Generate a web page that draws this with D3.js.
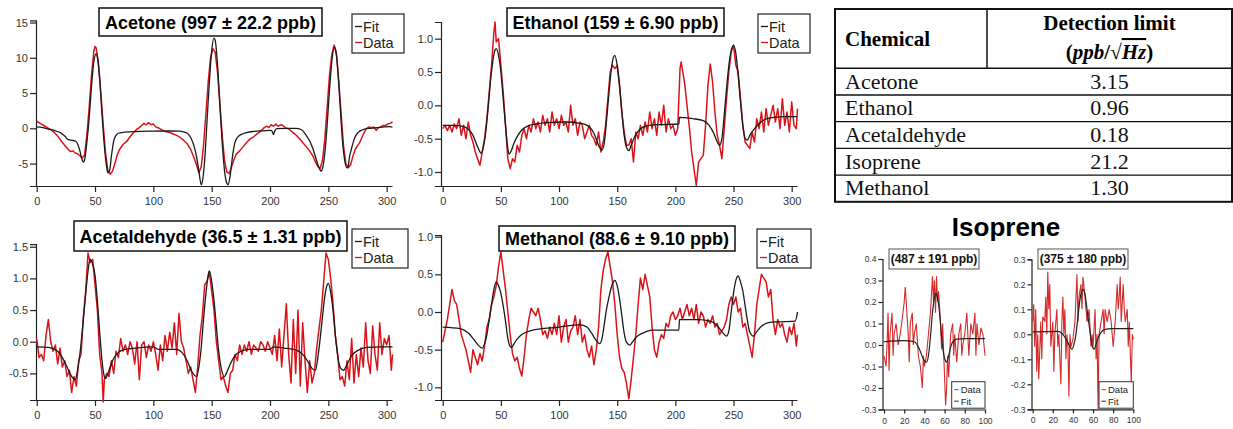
<!DOCTYPE html>
<html>
<head>
<meta charset="utf-8">
<script src="https://cdn.jsdelivr.net/npm/d3@7"></script>
<style>
  body { margin: 0; background: #fff; }
  svg { display: block; font-family: "Liberation Sans", Arial, sans-serif; }
  .axis path, .axis line { stroke: #222; stroke-width: 1.2; }
  .axis text { fill: #333; }
</style>
</head>
<body>
<svg id="chart" width="1233" height="429"></svg>
<script>
// ---- values ----
const bigXTicks = [0, 50, 100, 150, 200, 250, 300];
const isoXTicks = [0, 20, 40, 60, 80, 100];
const acetoneYTicks = [-5, 0, 5, 10, 15];
const ethanolYTicks = [-1.0, -0.5, 0.0, 0.5, 1.0];
const acetaldehydeYTicks = [-0.5, 0.0, 0.5, 1.0, 1.5];
const methanolYTicks = [-1.0, -0.5, 0.0, 0.5, 1.0];
const isoLeftYTicks = [-0.3, -0.2, -0.1, 0.0, 0.1, 0.2, 0.3, 0.4];
const isoRightYTicks = [-0.3, -0.2, -0.1, 0.0, 0.1, 0.2, 0.3];

const acetoneData = [[0,1.0],[3,0.7],[6,0.4],[9,0.1],[12,-0.2],[15,-0.6],[18,-1.1],[21,-1.8],[24,-2.4],[27,-3.0],[29,-3.3],[31,-3.2],[33,-3.5],[35,-3.6],[37,-3.9],[39,-4.2],[41,-3.8],[43,-1.0],[45,3.0],[47,7.5],[49,11.0],[50,11.6],[51,11.4],[53,9.0],[55,5.0],[57,0.5],[59,-3.5],[61,-6.0],[63,-6.5],[65,-6.1],[67,-5.0],[69,-3.8],[71,-3.0],[74,-2.3],[77,-1.9],[80,-1.2],[83,-0.6],[86,-0.1],[88,0.1],[90,0.4],[92,0.7],[94,0.5],[96,0.8],[98,0.5],[100,0.6],[102,0.2],[105,0.0],[108,-0.3],[111,-0.5],[114,-0.6],[117,-0.8],[120,-1.0],[123,-1.3],[126,-1.7],[129,-2.2],[132,-3.0],[135,-4.2],[137,-5.2],[139,-6.3],[141,-5.5],[143,-2.5],[145,2.0],[147,6.5],[149,10.0],[151,11.3],[153,10.8],[155,8.0],[157,3.5],[159,-1.0],[161,-4.5],[163,-6.2],[165,-6.4],[167,-5.5],[169,-4.5],[171,-3.7],[174,-3.2],[177,-2.6],[180,-2.0],[183,-1.5],[186,-1.2],[189,-0.8],[192,-0.4],[195,0.1],[197,0.3],[199,0.1],[201,0.5],[203,0.3],[205,0.6],[207,0.3],[209,0.5],[211,0.4],[213,0.1],[216,-0.1],[219,-0.5],[222,-0.9],[225,-1.4],[228,-2.0],[231,-2.6],[234,-3.2],[237,-4.0],[239,-4.8],[241,-5.4],[243,-5.7],[245,-4.5],[247,-1.5],[249,3.0],[251,7.5],[253,10.5],[255,11.8],[257,10.5],[259,6.5],[261,2.0],[263,-2.5],[265,-5.0],[267,-5.6],[269,-5.2],[271,-4.0],[273,-3.0],[275,-2.5],[277,-2.0],[279,-1.2],[281,-0.5],[283,0.0],[285,0.2],[287,0.1],[289,0.2],[291,-0.3],[293,0.1],[295,0.2],[297,0.4],[299,0.4],[301,0.6],[303,0.7],[305,0.9]];
const acetoneFit = [[0,0.2],[5,0.1],[10,-0.1],[15,-0.3],[20,-0.6],[24,-1.1],[27,-1.6],[30,-1.7],[33,-1.8],[35,-2.2],[37,-3.2],[39,-4.5],[40,-4.8],[41,-4.5],[43,-2.0],[45,1.5],[47,6.0],[49,9.5],[51,10.6],[52,10.2],[54,7.0],[56,2.0],[58,-2.5],[60,-5.5],[61,-6.3],[62,-6.2],[63,-5.5],[64,-4.0],[65,-2.8],[66,-1.8],[68,-1.0],[70,-0.7],[75,-0.55],[85,-0.45],[100,-0.4],[115,-0.38],[122,-0.4],[126,-0.5],[129,-0.7],[132,-1.3],[135,-2.6],[137,-4.0],[139,-6.0],[141,-8.0],[142,-7.6],[144,-4.5],[146,1.0],[148,6.5],[150,11.0],[152,12.8],[153,12.5],[155,9.0],[157,3.5],[159,-2.0],[161,-6.0],[163,-7.8],[164,-8.0],[166,-6.5],[168,-3.8],[170,-2.0],[172,-1.3],[175,-0.9],[180,-0.6],[185,-0.45],[195,-0.35],[201,-0.3],[202,-0.5],[203,-0.9],[204,-0.4],[206,-0.05],[215,0.0],[222,0.0],[227,-0.2],[231,-1.0],[234,-1.8],[237,-3.0],[240,-4.6],[242,-5.6],[244,-6.1],[245,-5.7],[247,-3.5],[249,0.5],[251,5.5],[253,9.5],[255,11.5],[256,11.3],[258,8.5],[260,3.5],[262,-1.5],[264,-4.5],[266,-5.6],[267,-5.4],[268,-4.2],[270,-2.8],[272,-1.6],[274,-0.9],[277,-0.4],[281,-0.1],[286,0.0],[292,0.1],[298,0.2],[303,0.25],[305,0.15]];

const ethanolData = [[0,-0.35],[2,-0.3],[4,-0.38],[6,-0.3],[8,-0.4],[10,-0.28],[12,-0.35],[14,-0.2],[16,-0.45],[18,-0.3],[20,-0.5],[22,-0.25],[24,-0.45],[26,-0.55],[28,-0.7],[30,-0.8],[32,-0.9],[34,-0.7],[36,-0.5],[38,-0.2],[40,0.2],[42,0.6],[44,1.1],[45,1.25],[46,0.95],[48,1.0],[50,0.6],[52,0.2],[54,-0.3],[56,-0.8],[58,-0.95],[60,-0.8],[62,-0.85],[64,-0.6],[66,-0.7],[68,-0.45],[70,-0.35],[72,-0.5],[74,-0.3],[76,-0.4],[78,-0.2],[80,-0.35],[82,-0.25],[84,-0.4],[86,-0.15],[88,-0.3],[90,-0.2],[92,-0.4],[94,-0.1],[96,-0.3],[98,-0.2],[100,-0.35],[102,-0.15],[104,-0.3],[106,-0.25],[108,-0.4],[110,0.0],[112,-0.3],[114,-0.2],[116,-0.45],[118,-0.25],[120,-0.3],[122,-0.5],[124,-0.4],[126,-0.3],[128,-0.45],[130,-0.5],[132,-0.6],[134,-0.4],[136,-0.7],[138,-0.55],[140,-0.3],[142,0.1],[144,0.5],[146,0.6],[148,0.55],[150,0.6],[152,0.3],[154,-0.1],[156,-0.4],[158,-0.6],[160,-0.6],[162,-0.5],[164,-0.85],[166,-0.4],[168,-0.5],[170,-0.3],[172,-0.45],[174,-0.25],[176,-0.4],[178,-0.1],[180,-0.35],[182,-0.2],[184,-0.45],[186,-0.1],[188,-0.3],[190,0.0],[192,-0.4],[194,-0.2],[196,-0.35],[198,-0.3],[200,-0.45],[202,-0.35],[204,0.55],[205,0.65],[208,0.33],[210,0.0],[212,-0.32],[214,-0.7],[216,-0.95],[218,-1.2],[220,-0.85],[222,-0.8],[224,-0.75],[226,-0.3],[228,0.3],[230,0.62],[232,0.35],[234,-0.1],[236,-0.45],[238,-0.6],[240,-0.8],[242,-0.35],[244,0.1],[246,0.5],[248,0.8],[250,0.9],[252,0.6],[254,0.5],[256,0.1],[258,-0.3],[260,-0.55],[262,-0.6],[264,-0.65],[266,-0.4],[268,-0.55],[270,-0.2],[272,-0.35],[274,-0.1],[276,-0.4],[278,-0.05],[280,-0.3],[282,-0.15],[284,0.0],[286,-0.25],[288,-0.05],[290,-0.35],[292,0.1],[294,-0.3],[296,-0.1],[298,-0.4],[300,0.05],[302,-0.3],[304,-0.35],[305,-0.05]];
const ethanolFit = [[0,-0.3],[10,-0.3],[18,-0.32],[22,-0.36],[26,-0.45],[30,-0.62],[33,-0.72],[35,-0.62],[37,-0.4],[39,-0.05],[41,0.35],[43,0.65],[45,0.83],[46,0.85],[48,0.75],[50,0.5],[52,0.1],[54,-0.3],[56,-0.65],[57,-0.73],[59,-0.68],[61,-0.58],[64,-0.47],[68,-0.37],[73,-0.31],[80,-0.28],[90,-0.26],[105,-0.25],[118,-0.27],[124,-0.3],[128,-0.36],[131,-0.46],[134,-0.6],[137,-0.67],[139,-0.55],[141,-0.2],[143,0.2],[145,0.55],[147,0.73],[148,0.75],[150,0.6],[152,0.3],[154,-0.1],[156,-0.45],[158,-0.63],[160,-0.68],[162,-0.6],[165,-0.47],[169,-0.37],[175,-0.31],[185,-0.29],[203,-0.28],[203.5,-0.18],[215,-0.2],[224,-0.23],[229,-0.3],[233,-0.42],[236,-0.55],[238,-0.6],[240,-0.5],[242,-0.15],[244,0.25],[246,0.6],[248,0.82],[250,0.9],[252,0.78],[254,0.45],[256,0.05],[258,-0.3],[260,-0.5],[262,-0.52],[264,-0.45],[268,-0.35],[273,-0.26],[277,-0.21],[285,-0.18],[295,-0.17],[305,-0.17]];

const acetaldehydeData = [[0,0.05],[2,-0.25],[4,-0.2],[6,-0.3],[8,0.1],[10,0.35],[12,0.0],[14,-0.15],[16,-0.05],[18,-0.35],[20,-0.1],[22,-0.4],[24,-0.3],[26,-0.55],[28,-0.45],[30,-0.8],[32,-0.55],[34,-0.7],[36,-0.3],[38,-0.2],[40,0.4],[42,0.8],[44,1.4],[46,1.25],[48,1.3],[50,0.9],[52,0.5],[54,-0.2],[56,-0.5],[57,-0.95],[58,-0.6],[60,-0.5],[62,-0.55],[64,-0.3],[66,-0.5],[68,-0.15],[70,-0.25],[72,0.05],[74,-0.15],[76,-0.05],[78,-0.2],[80,0.0],[82,-0.1],[84,-0.35],[86,0.0],[88,-0.6],[90,-0.05],[92,0.0],[94,-0.25],[96,-0.05],[98,-0.15],[100,0.0],[102,-0.2],[104,-0.45],[106,-0.05],[108,-0.3],[110,0.1],[112,-0.15],[114,0.15],[116,-0.1],[118,0.3],[120,-0.2],[122,0.45],[124,0.0],[126,-0.1],[128,-0.3],[130,-0.5],[132,-0.4],[134,-0.6],[136,-0.8],[138,-0.4],[140,0.1],[142,0.4],[144,0.9],[146,0.95],[148,1.1],[150,0.8],[152,0.5],[154,0.0],[156,-0.3],[158,-0.6],[160,-0.55],[162,-0.7],[164,-0.8],[166,-0.5],[168,-0.45],[170,-0.2],[172,-0.3],[174,-0.05],[176,-0.2],[178,-0.05],[180,-0.15],[182,0.0],[184,-0.2],[186,-0.05],[188,-0.1],[190,-0.15],[192,0.0],[194,-0.05],[196,-0.15],[198,0.0],[200,-0.1],[202,-0.2],[204,0.1],[206,-0.3],[208,0.2],[210,-0.4],[212,0.1],[214,0.6],[216,-0.2],[218,-0.65],[220,0.35],[222,-0.5],[224,0.5],[226,-0.7],[228,0.3],[230,-0.3],[232,-0.8],[234,-0.3],[236,-0.65],[238,-0.5],[240,-0.1],[242,0.2],[244,0.5],[246,0.95],[248,1.4],[250,1.3],[252,1.0],[254,0.6],[256,0.1],[258,-0.2],[260,-0.6],[262,-0.55],[264,-0.7],[266,-0.3],[268,-0.6],[270,0.05],[272,-0.65],[274,-0.2],[276,-0.55],[278,-0.1],[280,-0.4],[282,0.3],[284,-0.3],[286,-0.5],[288,0.25],[290,-0.2],[292,-0.45],[294,0.3],[296,-0.2],[298,0.05],[300,-0.05],[302,0.1],[304,-0.45],[305,-0.2]];
const acetaldehydeFit = [[0,-0.08],[10,-0.09],[18,-0.15],[22,-0.25],[26,-0.4],[30,-0.55],[33,-0.6],[35,-0.45],[37,-0.2],[40,0.35],[43,0.95],[45,1.25],[46,1.3],[48,1.22],[50,1.05],[52,0.65],[54,0.15],[56,-0.3],[58,-0.55],[59,-0.58],[61,-0.5],[63,-0.4],[66,-0.26],[70,-0.17],[76,-0.12],[85,-0.1],[100,-0.08],[104,-0.12],[120,-0.12],[125,-0.18],[129,-0.3],[133,-0.47],[137,-0.55],[139,-0.4],[141,-0.1],[143,0.35],[145,0.75],[147,1.05],[148,1.12],[150,0.95],[152,0.65],[154,0.25],[156,-0.15],[158,-0.4],[161,-0.55],[163,-0.48],[166,-0.35],[170,-0.22],[175,-0.15],[182,-0.12],[200,-0.12],[203,-0.08],[212,-0.1],[222,-0.13],[228,-0.2],[232,-0.3],[236,-0.42],[239,-0.45],[241,-0.25],[243,0.05],[245,0.4],[247,0.72],[249,0.9],[250,0.92],[252,0.78],[254,0.5],[256,0.1],[258,-0.22],[260,-0.4],[263,-0.45],[266,-0.36],[270,-0.22],[275,-0.14],[283,-0.09],[295,-0.08],[305,-0.08]];

const methanolData = [[0,-0.4],[2,-0.25],[4,-0.1],[6,0.1],[8,0.3],[10,0.15],[12,0.1],[14,-0.1],[16,-0.3],[18,-0.4],[20,-0.5],[22,-0.65],[24,-0.8],[26,-0.5],[28,-0.6],[30,-0.7],[32,-0.55],[34,-0.65],[36,-0.45],[38,-0.2],[40,-0.1],[42,0.1],[44,0.2],[46,0.35],[48,0.6],[50,0.8],[52,0.55],[54,0.3],[56,0.0],[58,-0.3],[60,-0.55],[62,-0.65],[64,-0.6],[66,-0.75],[68,-0.85],[70,-0.6],[72,-0.3],[74,-0.1],[76,0.05],[78,0.0],[80,-0.05],[82,0.05],[84,-0.1],[86,-0.3],[88,-0.25],[90,-0.35],[92,-0.2],[94,-0.3],[96,-0.15],[98,-0.3],[100,-0.05],[102,-0.4],[104,-0.2],[106,-0.1],[108,-0.4],[110,-0.25],[112,-0.2],[114,-0.05],[116,-0.3],[118,-0.1],[120,-0.4],[122,-0.3],[124,-0.5],[126,-0.6],[128,-0.45],[130,-0.7],[132,-0.5],[134,-0.2],[136,0.3],[138,0.55],[140,0.7],[142,0.8],[144,0.6],[146,0.4],[148,0.1],[150,-0.3],[152,-0.6],[154,-0.75],[156,-0.8],[158,-0.95],[160,-1.15],[162,-0.9],[164,-0.6],[166,-0.3],[168,0.1],[170,0.45],[172,0.3],[174,0.5],[176,0.35],[178,0.2],[180,-0.2],[182,-0.5],[184,-0.6],[186,-0.4],[188,-0.3],[190,-0.35],[192,-0.15],[194,-0.2],[196,-0.05],[198,0.0],[200,-0.1],[202,-0.05],[204,0.05],[206,-0.1],[208,0.0],[210,0.1],[212,-0.05],[214,0.05],[216,-0.1],[218,0.1],[220,-0.15],[222,0.0],[224,-0.05],[226,-0.2],[228,-0.1],[230,-0.15],[232,-0.05],[234,-0.2],[236,-0.15],[238,-0.3],[240,-0.25],[242,-0.2],[244,-0.1],[246,0.1],[248,0.2],[250,0.1],[252,0.2],[254,0.0],[256,0.05],[258,-0.2],[260,-0.15],[262,-0.3],[264,-0.45],[266,-0.6],[268,-0.3],[270,0.1],[272,0.3],[274,0.5],[276,0.45],[278,0.4],[280,0.2],[282,0.3],[284,-0.1],[286,-0.3],[288,-0.1],[290,-0.2],[292,-0.15],[294,-0.3],[296,-0.4],[298,-0.2],[300,-0.3],[302,-0.15],[304,-0.45],[305,-0.3]];
const methanolFit = [[0,-0.2],[15,-0.22],[22,-0.28],[26,-0.35],[30,-0.43],[34,-0.48],[36,-0.42],[38,-0.3],[40,-0.1],[42,0.1],[44,0.3],[46,0.4],[48,0.35],[50,0.25],[52,0.08],[54,-0.12],[56,-0.35],[58,-0.46],[59,-0.47],[61,-0.43],[64,-0.36],[68,-0.3],[75,-0.25],[100,-0.2],[118,-0.17],[124,-0.2],[128,-0.28],[132,-0.38],[135,-0.42],[137,-0.35],[139,-0.15],[141,0.05],[143,0.2],[146,0.38],[148,0.42],[150,0.35],[152,0.18],[154,-0.05],[156,-0.28],[158,-0.4],[161,-0.44],[163,-0.4],[166,-0.34],[172,-0.28],[180,-0.24],[203,-0.24],[203.5,-0.1],[220,-0.1],[230,-0.12],[236,-0.18],[240,-0.26],[244,-0.32],[246,-0.25],[248,0.0],[250,0.25],[252,0.42],[254,0.48],[256,0.4],[258,0.28],[260,0.08],[262,-0.12],[264,-0.27],[267,-0.32],[270,-0.26],[274,-0.19],[280,-0.14],[290,-0.13],[303,-0.12],[305,0.0]];

const isoLeftData = [[0,-0.05],[2,-0.1],[3,0.0],[4,0.15],[5,-0.12],[6,0.05],[8,0.15],[9,-0.05],[10,0.05],[12,0.1],[14,0.0],[16,0.05],[18,0.12],[20,0.2],[21,0.27],[22,0.2],[24,0.05],[25,-0.08],[26,0.1],[28,0.15],[29,0.0],[30,0.05],[32,0.1],[34,-0.05],[36,-0.1],[38,-0.2],[39,-0.05],[40,-0.1],[42,-0.05],[44,0.05],[46,0.15],[48,0.32],[49,0.2],[50,0.3],[51,0.15],[52,0.32],[53,0.2],[54,0.25],[56,0.1],[57,-0.02],[58,0.1],[60,-0.15],[61,-0.28],[62,-0.2],[63,-0.05],[64,-0.15],[66,0.05],[68,0.1],[69,-0.05],[70,0.05],[72,-0.08],[74,0.05],[76,0.1],[77,-0.05],[78,0.0],[80,0.05],[82,0.15],[84,-0.05],[86,0.1],[88,0.05],[90,0.15],[91,-0.05],[92,0.1],[94,0.0],[96,0.08],[98,0.05],[100,-0.05]];
const isoLeftFit = [[0,0.015],[20,0.02],[30,0.015],[33,0.0],[36,-0.03],[39,-0.065],[42,-0.08],[44,-0.05],[46,0.04],[48,0.15],[50,0.22],[51,0.24],[53,0.22],[55,0.15],[57,0.04],[59,-0.04],[61,-0.075],[62,-0.08],[64,-0.05],[66,-0.01],[68,0.015],[72,0.027],[80,0.03],[100,0.03]];
const isoRightData = [[0,0.05],[1,0.12],[2,-0.05],[3,0.1],[4,-0.15],[5,0.0],[6,-0.18],[8,0.05],[9,-0.1],[10,0.07],[12,0.05],[13,0.15],[14,0.0],[15,0.25],[16,0.1],[17,0.2],[18,-0.05],[20,0.05],[21,-0.15],[22,0.0],[24,0.1],[25,-0.05],[26,0.0],[28,-0.2],[29,0.05],[30,0.15],[31,0.0],[32,0.1],[33,-0.1],[34,0.0],[35,-0.05],[36,-0.25],[37,0.0],[38,-0.05],[40,-0.02],[42,0.05],[44,0.24],[45,0.05],[46,0.15],[48,0.2],[49,0.1],[50,0.23],[52,0.15],[54,0.05],[56,0.1],[58,-0.05],[59,0.0],[60,-0.05],[62,0.1],[63,-0.1],[64,0.0],[65,-0.3],[66,0.0],[68,0.05],[70,0.1],[71,0.0],[72,0.1],[74,0.05],[76,0.1],[78,0.05],[80,-0.05],[82,0.05],[84,0.2],[85,0.1],[86,0.15],[87,0.23],[88,0.05],[90,0.2],[91,0.1],[92,0.05],[94,0.1],[95,-0.05],[96,0.05],[98,-0.2],[99,0.0],[100,-0.02]];
const isoRightFit = [[0,0.01],[25,0.012],[30,0.0],[34,-0.025],[37,-0.05],[39,-0.06],[41,-0.04],[43,0.0],[45,0.07],[47,0.14],[50,0.18],[52,0.16],[54,0.1],[56,0.04],[58,-0.02],[60,-0.055],[61,-0.06],[63,-0.04],[65,-0.015],[68,0.008],[72,0.02],[78,0.023],[100,0.023]];

const chemicals = ["Acetone", "Ethanol", "Acetaldehyde", "Isoprene", "Methanol"];
const detectionLimits = ["3.15", "0.96", "0.18", "21.2", "1.30"];

const dataColor = "#d8141b";
const fitColor = "#1a1a1a";

const svg = d3.select("#chart");
svg.append("rect").attr("width", 1233).attr("height", 429).attr("fill", "#fff");

const panels = [
  { title: "Acetone (997 ± 22.2 ppb)", data: acetoneData, fit: acetoneFit,
    xDomain: [0, 305], xRange: [36.7, 392.5], yDomain: [-8.18, 15.3], yRange: [186, 20.4],
    xTicks: bigXTicks, yTicks: acetoneYTicks, yFmt: d => String(d), axisX: 36,
    titleBox: [99, 8, 223, 28], legend: [352, 14, 52, 39] },
  { title: "Ethanol (159 ± 6.90 ppb)", data: ethanolData, fit: ethanolFit,
    xDomain: [0, 305], xRange: [442.7, 797.5], yDomain: [-1.21, 1.25], yRange: [186, 22],
    xTicks: bigXTicks, yTicks: ethanolYTicks, yFmt: d => d.toFixed(1), axisX: 441,
    titleBox: [507, 8, 217, 28], legend: [758, 14, 52, 39] },
  { title: "Acetaldehyde (36.5 ± 1.31 ppb)", data: acetaldehydeData, fit: acetaldehydeFit,
    xDomain: [0, 305], xRange: [36.7, 392.5], yDomain: [-0.92, 1.54], yRange: [400, 244.2],
    xTicks: bigXTicks, yTicks: acetaldehydeYTicks, yFmt: d => d.toFixed(1), axisX: 36,
    titleBox: [74, 221, 273, 30], legend: [352, 229, 56, 39] },
  { title: "Methanol (88.6 ± 9.10 ppb)", data: methanolData, fit: methanolFit,
    xDomain: [0, 305], xRange: [442.7, 797.5], yDomain: [-1.168, 1.022], yRange: [400, 235],
    xTicks: bigXTicks, yTicks: methanolYTicks, yFmt: d => d.toFixed(1), axisX: 441,
    titleBox: [499, 226, 236, 25], legend: [757, 229, 54, 39] }
];

function drawAxes(g, x, y, p, opt) {
  const xAxis = d3.axisBottom(x).tickValues(p.xTicks).tickSizeOuter(0)
    .tickSize(opt.tick).tickPadding(opt.padX).tickFormat(d => String(d));
  const gx = g.append("g").attr("class", "axis")
    .attr("transform", `translate(0,${p.yRange[0]})`).call(xAxis);
  gx.select(".domain").attr("d", `M${p.axisX},0.5H${p.xRange[1]}`);

  const yAxis = d3.axisLeft(y).tickValues(p.yTicks).tickSizeOuter(0)
    .tickSize(opt.tick).tickPadding(opt.padY).tickFormat(p.yFmt);
  g.append("g").attr("class", "axis")
    .attr("transform", `translate(${p.axisX},0)`).call(yAxis);

  g.selectAll(".axis text").attr("font-size", opt.font)
    .attr("font-family", "'Liberation Sans', Arial, sans-serif");
}

function drawPanel(p) {
  const x = d3.scaleLinear().domain(p.xDomain).range(p.xRange);
  const y = d3.scaleLinear().domain(p.yDomain).range(p.yRange);
  const g = svg.append("g");

  drawAxes(g, x, y, p, { tick: 6, padX: 5, padY: 2, font: 11 });

  const dataLine = d3.line().x(d => x(d[0])).y(d => y(d[1]));
  const fitLine = d3.line().x(d => x(d[0])).y(d => y(d[1])).curve(d3.curveMonotoneX);

  g.append("path").datum(p.data).attr("d", dataLine)
    .attr("fill", "none").attr("stroke", dataColor).attr("stroke-width", 1.5)
    .attr("stroke-linejoin", "round");
  g.append("path").datum(p.fit).attr("d", fitLine)
    .attr("fill", "none").attr("stroke", fitColor).attr("stroke-width", 1.3);

  // title box
  const [bx, by, bw, bh] = p.titleBox;
  g.append("rect").attr("x", bx).attr("y", by).attr("width", bw).attr("height", bh)
    .attr("fill", "#fff").attr("stroke", "#111").attr("stroke-width", 1.5);
  g.append("text").attr("x", bx + bw / 2).attr("y", by + bh / 2 + 6.5)
    .attr("text-anchor", "middle").attr("font-weight", "bold").attr("font-size", 18)
    .attr("fill", "#000").text(p.title);

  // legend: Fit, Data
  const [lx, ly, lw, lh] = p.legend;
  g.append("rect").attr("x", lx).attr("y", ly).attr("width", lw).attr("height", lh)
    .attr("fill", "#fff").attr("stroke", "#222").attr("stroke-width", 1.2);
  [["Fit", fitColor], ["Data", dataColor]].forEach((e, i) => {
    const cy = ly + 12.5 + i * 16;
    g.append("line").attr("x1", lx + 3).attr("x2", lx + 10).attr("y1", cy).attr("y2", cy)
      .attr("stroke", e[1]).attr("stroke-width", 1.3);
    g.append("text").attr("x", lx + 11).attr("y", cy + 5).attr("font-size", 14.5)
      .attr("fill", "#222").text(e[0]);
  });
}

panels.forEach(drawPanel);

// ---- Isoprene small panels ----
const isoPanels = [
  { title: "(487 ± 191 ppb)", data: isoLeftData, fit: isoLeftFit,
    xDomain: [0, 100], xRange: [884, 985], yDomain: [-0.3, 0.4], yRange: [409.5, 259],
    xTicks: isoXTicks, yTicks: isoLeftYTicks, yFmt: d => d.toFixed(1), axisX: 882.5,
    titleBox: [889, 249, 90, 20], legend: [951.7, 381.7, 33.3, 26.5] },
  { title: "(375 ± 180 ppb)", data: isoRightData, fit: isoRightFit,
    xDomain: [0, 100], xRange: [1032.7, 1133.3], yDomain: [-0.3, 0.3], yRange: [409.3, 259.3],
    xTicks: isoXTicks, yTicks: isoRightYTicks, yFmt: d => d.toFixed(1), axisX: 1031.5,
    titleBox: [1038, 249, 90, 20], legend: [1099, 381.7, 34.3, 26.5] }
];

svg.append("text").attr("x", 1006).attr("y", 236).attr("text-anchor", "middle")
  .attr("font-weight", "bold").attr("font-size", 26).attr("fill", "#000").text("Isoprene");

isoPanels.forEach(p => {
  const x = d3.scaleLinear().domain(p.xDomain).range(p.xRange);
  const y = d3.scaleLinear().domain(p.yDomain).range(p.yRange);
  const g = svg.append("g");
  drawAxes(g, x, y, p, { tick: 4, padX: 4, padY: 2, font: 8.5 });
  g.selectAll(".axis path, .axis line").attr("stroke-width", 1);

  const dataLine = d3.line().x(d => x(d[0])).y(d => y(d[1]));
  const fitLine = d3.line().x(d => x(d[0])).y(d => y(d[1])).curve(d3.curveMonotoneX);
  g.append("path").datum(p.data).attr("d", dataLine)
    .attr("fill", "none").attr("stroke", "#d42a2a").attr("stroke-width", 1.1);
  g.append("path").datum(p.fit).attr("d", fitLine)
    .attr("fill", "none").attr("stroke", "#222").attr("stroke-width", 1.2);

  const [bx, by, bw, bh] = p.titleBox;
  g.append("rect").attr("x", bx).attr("y", by).attr("width", bw).attr("height", bh)
    .attr("fill", "#fff").attr("stroke", "#555").attr("stroke-width", 1);
  g.append("text").attr("x", bx + bw / 2).attr("y", by + bh / 2 + 4.3)
    .attr("text-anchor", "middle").attr("font-weight", "bold").attr("font-size", 12)
    .attr("fill", "#111").text(p.title);

  const [lx, ly, lw, lh] = p.legend;
  g.append("rect").attr("x", lx).attr("y", ly).attr("width", lw).attr("height", lh)
    .attr("fill", "#fff").attr("stroke", "#333").attr("stroke-width", 1);
  [["Data", "#d42a2a"], ["Fit", "#222"]].forEach((e, i) => {
    const cy = ly + 8 + i * 11.5;
    g.append("line").attr("x1", lx + 2.5).attr("x2", lx + 7).attr("y1", cy).attr("y2", cy)
      .attr("stroke", e[1]).attr("stroke-width", 1);
    g.append("text").attr("x", lx + 9).attr("y", cy + 3.5).attr("font-size", 9.5)
      .attr("fill", "#222").text(e[0]);
  });
});

// ---- detection limit table ----
const table = svg.append("g").attr("font-family", "'Liberation Serif', 'Times New Roman', serif");
const tLeft = 835, tRight = 1232, tDiv = 987, tTop = 9, headBottom = 68.3, rowH = 26.7;
const tBottom = headBottom + rowH * chemicals.length;

table.append("rect").attr("x", tLeft).attr("y", tTop).attr("width", tRight - tLeft)
  .attr("height", tBottom - tTop).attr("fill", "none").attr("stroke", "#111").attr("stroke-width", 2);
table.append("line").attr("x1", tDiv).attr("x2", tDiv).attr("y1", tTop).attr("y2", headBottom)
  .attr("stroke", "#111").attr("stroke-width", 1.5);
table.append("line").attr("x1", tLeft).attr("x2", tRight).attr("y1", headBottom).attr("y2", headBottom)
  .attr("stroke", "#111").attr("stroke-width", 1.5);

const colCenter = (tDiv + tRight) / 2;
table.append("text").attr("x", 845).attr("y", 46).attr("font-size", 21).attr("font-weight", "bold")
  .text("Chemical");
table.append("text").attr("x", colCenter).attr("y", 30).attr("text-anchor", "middle")
  .attr("font-size", 21).attr("font-weight", "bold").text("Detection limit");
const unit = table.append("text").attr("x", colCenter).attr("y", 59).attr("text-anchor", "middle")
  .attr("font-size", 21).attr("font-weight", "bold");
unit.append("tspan").text("(");
unit.append("tspan").attr("font-style", "italic").text("ppb");
unit.append("tspan").text("/√");
unit.append("tspan").attr("font-style", "italic").attr("text-decoration", "overline").text("Hz");
unit.append("tspan").text(")");

chemicals.forEach((c, i) => {
  const top = headBottom + i * rowH;
  if (i > 0) {
    table.append("line").attr("x1", tLeft).attr("x2", tRight).attr("y1", top).attr("y2", top)
      .attr("stroke", "#111").attr("stroke-width", 1.3);
  }
  table.append("text").attr("x", 845).attr("y", top + rowH / 2 + 7).attr("font-size", 22)
    .attr("fill", "#111").text(c);
  table.append("text").attr("x", colCenter).attr("y", top + rowH / 2 + 7).attr("font-size", 22)
    .attr("text-anchor", "middle").attr("fill", "#111").text(detectionLimits[i]);
});
</script>
</body>
</html>
